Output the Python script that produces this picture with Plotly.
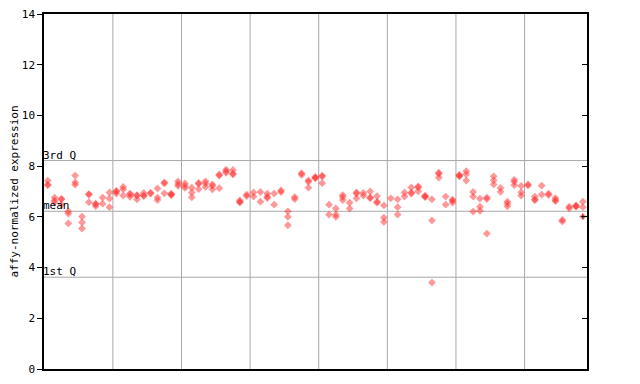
import plotly.graph_objects as go

# expression values per sample column
columns = [
    [7.43, 7.27, 7.25], [6.76, 6.65, 6.58], [6.71, 6.69, 6.48], [6.22, 6.13, 5.74],
    [7.63, 7.36, 7.27], [6.01, 5.78, 5.54], [6.90, 6.88, 6.58], [6.52, 6.50, 6.42],
    [6.76, 6.52], [6.96, 6.72, 6.38], [7.02, 7.00, 6.92], [7.18, 7.08, 6.84],
    [6.92, 6.88, 6.79], [6.86, 6.84, 6.69], [6.94, 6.84, 6.82], [6.95, 6.92],
    [7.12, 6.76, 6.66], [7.36, 7.32, 6.93], [6.92, 6.88, 6.86], [7.40, 7.30, 7.22],
    [7.32, 7.22, 7.14], [7.15, 6.96, 6.77], [7.34, 7.30, 7.09], [7.40, 7.32, 7.18],
    [7.28, 7.22, 7.08], [7.67, 7.63, 7.13], [7.86, 7.80, 7.74], [7.85, 7.70, 7.68],
    [6.65, 6.59, 6.57], [6.88, 6.82], [6.96, 6.80], [6.98, 6.60],
    [6.92, 6.80, 6.74], [6.92, 6.48], [7.04, 6.98], [6.22, 6.00, 5.67],
    [6.78, 6.70], [7.72, 7.66], [7.44, 7.38, 7.15], [7.58, 7.54, 7.52],
    [7.63, 7.59, 7.33], [6.48, 6.09], [6.33, 6.09, 6.00], [6.86, 6.78, 6.66],
    [6.56, 6.33], [6.96, 6.92, 6.73], [6.94, 6.84], [7.00, 6.76, 6.74],
    [6.82, 6.60, 6.56], [6.45, 5.97, 5.80], [6.73], [6.69, 6.38, 6.09],
    [6.96, 6.80], [7.16, 6.96, 6.92], [7.20, 7.16, 7.01], [6.84, 6.80, 6.78],
    [6.69, 5.86, 3.41], [7.74, 7.70, 7.55], [6.80, 6.48], [6.68, 6.64, 6.56],
    [7.66, 7.62, 7.60], [7.80, 7.68, 7.43], [6.98, 6.80, 6.21], [6.72, 6.40, 6.24],
    [6.76, 6.70, 5.34], [7.60, 7.44, 7.28], [7.14, 6.99], [6.60, 6.52, 6.41],
    [7.46, 7.38, 7.25], [7.22, 6.97, 6.84], [7.28, 7.24], [6.80, 6.68, 6.66],
    [7.23, 6.88], [6.92, 6.86], [6.74, 6.66, 6.62], [5.88, 5.82],
    [6.40, 6.34], [6.45, 6.42, 6.40], [6.60, 6.38, 6.01],
]
highlight_x = [78]
highlight_y = [6.01]

quartile_names = ["3rd Q", "mean", "1st Q"]
quartile_values = [8.22, 6.22, 3.62]
group_bounds = [9.5, 19.5, 29.5, 39.5, 49.5, 59.5, 69.5]
y_ticks = [0, 2, 4, 6, 8, 10, 12, 14]

xs, ys = [], []
for i, vals in enumerate(columns):
    for v in vals:
        xs.append(i)
        ys.append(v)

FONT = "DejaVu Sans Mono"

fig = go.Figure()
fig.add_trace(go.Scatter(
    x=xs, y=ys, mode="markers",
    marker=dict(symbol="diamond", size=6, color="rgba(255,50,50,0.5)", line=dict(width=0)),
    showlegend=False, hoverinfo="y"))
fig.add_trace(go.Scatter(
    x=highlight_x, y=highlight_y, mode="markers",
    marker=dict(symbol="cross-thin", size=3, line=dict(width=1, color="black")),
    showlegend=False))

shapes = []
for q in quartile_values:
    shapes.append(dict(type="line", xref="paper", yref="y", x0=0, x1=1, y0=q, y1=q,
                       line=dict(color="#a8a8a8", width=1), layer="below"))
for b in group_bounds:
    shapes.append(dict(type="line", xref="x", yref="paper", x0=b, x1=b, y0=0, y1=1,
                       line=dict(color="#a8a8a8", width=1), layer="below"))

annotations = []
for name, q in zip(quartile_names, quartile_values):
    annotations.append(dict(x=0, xref="paper", y=q, yref="y", text=name, showarrow=False,
                            xanchor="left", yanchor="bottom", yshift=-3, xshift=-3,
                            font=dict(family=FONT, size=11, color="black")))

fig.update_layout(
    width=632, height=376,
    margin=dict(l=36, r=53, t=6, b=15, autoexpand=False),
    paper_bgcolor="white", plot_bgcolor="white",
    shapes=shapes, annotations=annotations,
    xaxis=dict(range=[-0.54, 78.6], showgrid=False, zeroline=False, showticklabels=False,
               ticks="", showline=True, linecolor="black", linewidth=1.5, mirror=True,
               automargin=False),
    yaxis=dict(range=[0, 14], tickvals=y_ticks, ticks="outside", ticklen=5, tickcolor="black",
               showgrid=False, zeroline=False, showline=True, linecolor="black", linewidth=1.5,
               mirror=True, automargin=False, ticklabeloverflow="allow",
               tickfont=dict(family=FONT, size=11, color="black"),
               title=dict(text="affy-normalized expression", standoff=6,
                          font=dict(family=FONT, size=11, color="black"))),
    yaxis2=dict(range=[0, 14], tickvals=y_ticks, overlaying="y", side="right", ticks="inside",
                ticklen=5, tickcolor="black", showticklabels=False, showgrid=False,
                zeroline=False, showline=False, automargin=False),
)
fig.add_trace(go.Scatter(x=[None], y=[None], yaxis="y2", showlegend=False))

fig.write_html("out.html")
